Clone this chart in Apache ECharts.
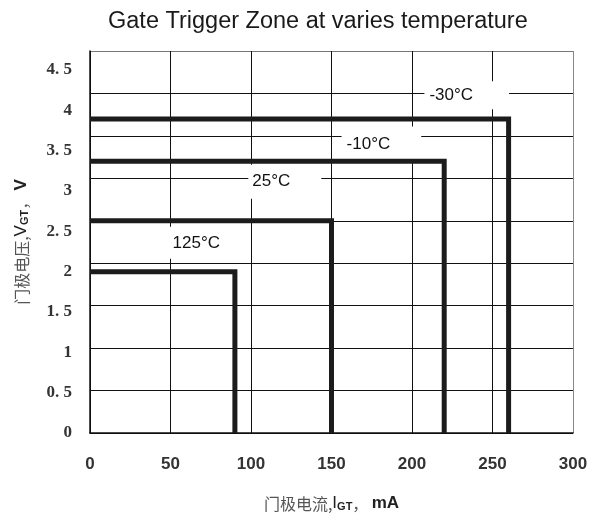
<!DOCTYPE html>
<html>
<head>
<meta charset="utf-8">
<script src="https://cdn.jsdelivr.net/npm/echarts@6/dist/echarts.min.js"></script>
<style>
html,body{margin:0;padding:0;background:#fff;}
#chart{width:591px;height:517px;}
</style>
</head>
<body>
<div id="chart"></div>
<script>
// Data
var temps = ['-30°C', '-10°C', '25°C', '125°C'];
var igt = [260, 220, 150, 90];          // mA (vertical edge of each zone)
var vgt = [3.7, 3.2, 2.5, 1.9];         // V (horizontal edge of each zone)
var labelX = [234, 181, 121, 66];       // label box centres (mA)
var labelY = [3.98, 3.40, 2.96, 2.24];  // label box centres (V)
var xTicks = ['0', '50', '100', '150', '200', '250', '300'];
var yTicks = ['0', '0. 5', '1', '1. 5', '2', '2. 5', '3', '3. 5', '4', '4. 5'];

var labelPads = [[5, 36, 6, 5], [6, 31, 13, 5], [11, 31, 6, 4], [6, 5, 9, 5]];

var chart = echarts.init(document.getElementById('chart'));

var lineSeries = temps.map(function (t, i) {
  return {
    name: t,
    type: 'line',
    xAxisIndex: 0,
    yAxisIndex: 0,
    data: [[0, vgt[i]], [igt[i], vgt[i]], [igt[i], 0]],
    symbol: 'none',
    silent: true,
    z: 4,
    lineStyle: { color: '#1c1c1c', width: 5, join: 'miter', cap: 'butt' }
  };
});

var labelSeries = {
  type: 'scatter',
  xAxisIndex: 0,
  yAxisIndex: 0,
  symbol: 'circle',
  symbolSize: 0,
  z: 3,
  silent: true,
  itemStyle: { color: '#000', opacity: 1 },
  data: temps.map(function (t, i) {
    return {
      value: [labelX[i], labelY[i]],
      label: {
        show: true,
        position: 'inside',
        formatter: t,
        color: '#111',
        opacity: 1,
        fontFamily: 'Liberation Sans',
        fontSize: 17,
        backgroundColor: '#fff',
        padding: labelPads[i]
      }
    };
  })
};

var nameRich = {
  c: { fontFamily: 'Noto Sans CJK SC', fontSize: 16, color: '#555', lineHeight: 22, verticalAlign: 'bottom' },
  i: { fontFamily: 'Liberation Sans', fontSize: 17, color: '#222', lineHeight: 22, verticalAlign: 'bottom' },
  s: { fontFamily: 'Liberation Sans', fontSize: 11, fontWeight: 'bold', color: '#222', lineHeight: 16, verticalAlign: 'bottom' },
  u: { fontFamily: 'Liberation Sans', fontSize: 17, fontWeight: 'bold', color: '#222', lineHeight: 22, verticalAlign: 'bottom' }
};

var ySplitColors = ['#111', '#111', '#111', '#111', '#111', '#111', '#111', '#111', '#111', '#777'];
var xSplitColors = ['#111', '#111', '#111', '#111', '#111', '#111', '#888'];

chart.setOption({
  animation: false,
  backgroundColor: '#fff',
  title: {
    text: 'Gate Trigger Zone at varies temperature',
    left: 108,
    top: 10,
    padding: 0,
    textStyle: { fontFamily: 'Liberation Sans', fontSize: 23.5, fontWeight: 'normal', color: '#1a1a1a' }
  },
  grid: { left: 90, right: 18, top: 51, bottom: 83, containLabel: false },
  xAxis: [{
    type: 'value',
    min: 0, max: 300, interval: 50,
    name: '{c|门极电流,}{i|I}{s|GT}{c|，} {u|mA}',
    nameLocation: 'middle',
    nameGap: 57,
    nameTextStyle: { rich: nameRich },
    axisLine: { show: true, lineStyle: { color: '#111', width: 1.5 } },
    axisTick: { show: false },
    axisLabel: {
      margin: 23,
      color: '#333',
      fontFamily: 'Liberation Sans',
      fontWeight: 'bold',
      fontSize: 17,
      formatter: function (v) { return xTicks[Math.round(v / 50)] || ''; }
    },
    splitLine: { show: true, lineStyle: { color: xSplitColors, width: 1 } }
  }],
  yAxis: [{
    type: 'value',
    min: 0, max: 4.5, interval: 0.5,
    name: '{c|门极电压,}{i|V}{s|GT}{c|，} {u|V}',
    nameLocation: 'middle',
    nameGap: 60,
    nameRotate: 90,
    nameTextStyle: { rich: nameRich },
    axisLine: { show: true, lineStyle: { color: '#111', width: 1.5 } },
    axisTick: { show: false },
    axisLabel: { show: false },
    splitLine: { show: true, lineStyle: { color: ySplitColors, width: 1 } }
  }, {
    type: 'value',
    position: 'left',
    min: 0, max: 4.734, interval: 0.5,
    axisLine: { show: false },
    axisTick: { show: false },
    splitLine: { show: false },
    axisLabel: {
      margin: 18,
      color: '#333',
      fontFamily: 'Liberation Serif',
      fontWeight: 'bold',
      fontSize: 17,
      formatter: function (v) {
        var k = Math.round(v / 0.5);
        if (Math.abs(k * 0.5 - v) > 1e-6) return '';
        return yTicks[k] || '';
      }
    }
  }],
  series: lineSeries.concat([labelSeries])
});
</script>
</body>
</html>
